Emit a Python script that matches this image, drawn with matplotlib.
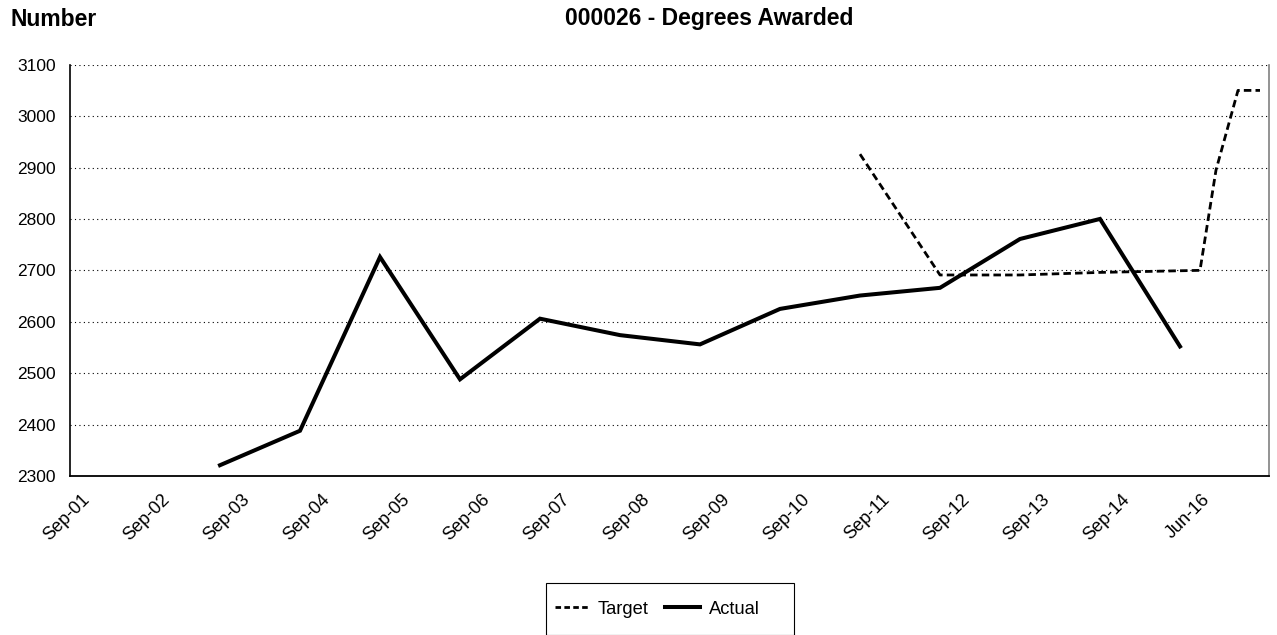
import matplotlib
matplotlib.use("Agg")
import matplotlib.pyplot as plt
from matplotlib.lines import Line2D
from matplotlib.patches import Rectangle

plt.rcParams['font.family'] = ['Liberation Sans', 'DejaVu Sans']

# Category labels (one per year slot on the axis)
tick_labels = ["Sep-01", "Sep-02", "Sep-03", "Sep-04", "Sep-05", "Sep-06", "Sep-07",
               "Sep-08", "Sep-09", "Sep-10", "Sep-11", "Sep-12", "Sep-13", "Sep-14", "Jun-16"]
tick_pos = [0.65, 4.65, 8.65, 12.65, 16.65, 20.65, 24.65, 28.65, 32.65, 36.65, 40.65,
            44.65, 48.65, 52.65, 56.65]

# Actual series (period index on a quarterly grid, value)
actual_x = [7, 11, 15, 19, 23, 27, 31, 35, 39, 43, 47, 51, 55]
actual_y = [2321, 2388, 2726, 2488, 2606, 2574, 2556, 2625, 2651, 2666, 2761, 2800, 2552]

# Target series
target_x = [39, 43, 47, 51, 56, 56.8, 57.9, 59]
target_y = [2926, 2691, 2691, 2696, 2700, 2895, 3050, 3050]

W, H = 1277, 635
fig = plt.figure(figsize=(W / 100, H / 100), dpi=100)
ax = fig.add_axes([70 / W, 1 - 476 / H, (1269 - 70) / W, (476 - 64.7) / H])

ax.plot(target_x, target_y, color='black', lw=2.0, linestyle=(0, (2.7, 1.5)),
        solid_joinstyle='miter', label='Target')
ax.plot(actual_x, actual_y, color='black', lw=2.9, solid_joinstyle='miter', label='Actual')

ax.set_xlim(-0.5, 59.45)
ax.set_ylim(2300, 3100)
ax.set_yticks(range(2300, 3101, 100))
ax.set_xticks(tick_pos)
ax.set_xticklabels(tick_labels, rotation=45, ha='right', fontsize=13)
ax.tick_params(axis='x', length=0, pad=11)
ax.tick_params(axis='y', length=0, pad=10, labelsize=12.5)

for v in range(2400, 3101, 100):
    ax.axhline(v, color='black', lw=0.8, linestyle=(0, (1, 3)), zorder=0.5)

ax.spines['top'].set_visible(False)
ax.spines['right'].set_color('#808080')
ax.spines['right'].set_linewidth(1.2)
ax.spines['left'].set_linewidth(1.2)
ax.spines['bottom'].set_linewidth(1.3)

fig.text(10 / W, 1 - 19 / H, "Number", fontsize=16.5, fontweight='bold', ha='left', va='center')
fig.text(709 / W, 1 - 19 / H, "000026 - Degrees Awarded", fontsize=16.5, fontweight='bold',
         ha='center', va='center')

# Legend
fig.patches.append(Rectangle((546 / W, 0), (794 - 546) / W, (635 - 583) / H,
                             transform=fig.transFigure, fill=False, edgecolor='black',
                             lw=0.8, clip_on=False))
handles = [Line2D([], [], color='black', lw=2.0, linestyle=(0, (2.0, 1.2))),
           Line2D([], [], color='black', lw=2.9)]
fig.legend(handles, ["Target", "Actual"], loc='center left',
           bbox_to_anchor=(555 / W, 1 - 609 / H), ncol=2, frameon=False,
           fontsize=13.2, handlelength=1.9, handletextpad=0.45, columnspacing=0.9,
           borderpad=0, borderaxespad=0)

fig.savefig("out.png", dpi=100)
